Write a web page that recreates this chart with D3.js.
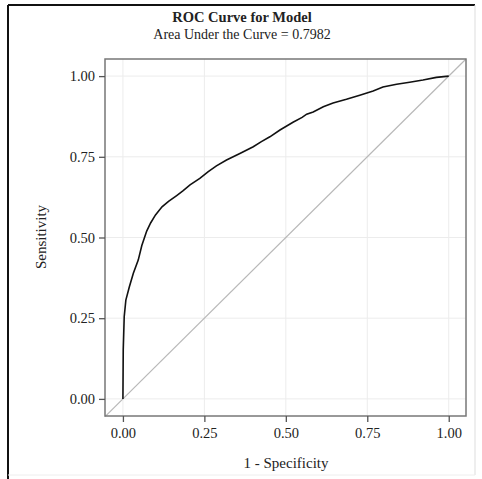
<!DOCTYPE html>
<html>
<head>
<meta charset="utf-8">
<script src="https://cdn.jsdelivr.net/npm/d3@7"></script>
<style>
  body { margin: 0; background: #fff; }
  text { font-family: "Liberation Serif", "DejaVu Serif", serif; fill: #222; }
</style>
</head>
<body>
<script>
// ROC points
const fpr = [0, 0.001, 0.004, 0.009, 0.020, 0.032, 0.047, 0.058, 0.073, 0.085, 0.100, 0.120, 0.140,
  0.165, 0.185, 0.206, 0.236, 0.262, 0.287, 0.318, 0.359, 0.400, 0.425, 0.451, 0.482, 0.522, 0.550,
  0.564, 0.584, 0.615, 0.645, 0.686, 0.727, 0.768, 0.798, 0.840, 0.880, 0.921, 0.962, 1.0];
const tpr = [0, 0.152, 0.255, 0.306, 0.348, 0.389, 0.430, 0.475, 0.520, 0.545, 0.570, 0.595, 0.612,
  0.630, 0.645, 0.663, 0.683, 0.704, 0.722, 0.740, 0.760, 0.781, 0.797, 0.812, 0.833, 0.857, 0.872,
  0.882, 0.889, 0.905, 0.917, 0.928, 0.941, 0.954, 0.966, 0.975, 0.981, 0.988, 0.996, 1.0];
const tickVals = [0, 0.25, 0.5, 0.75, 1];
const title = "ROC Curve for Model";
const subtitle = "Area Under the Curve = 0.7982";

const w = 482, h = 479;
const panel = {left: 105, right: 466, top: 59, bottom: 416};

const svg = d3.select("body").append("svg")
  .attr("width", w).attr("height", h);

// outer frame
svg.append("line").attr("x1", 8).attr("x2", 8).attr("y1", 5).attr("y2", h).attr("stroke", "#111").attr("stroke-width", 2);
svg.append("line").attr("x1", 8).attr("x2", 475).attr("y1", 5).attr("y2", 5).attr("stroke", "#111").attr("stroke-width", 2);
svg.append("line").attr("x1", 475).attr("x2", 475).attr("y1", 5).attr("y2", 475).attr("stroke", "#ddd");
svg.append("line").attr("x1", 8).attr("x2", 475).attr("y1", 475).attr("y2", 475).attr("stroke", "#eee");

const x = d3.scaleLinear().domain([-0.055, 1.053]).range([panel.left, panel.right]);
const y = d3.scaleLinear().domain([-0.053, 1.053]).range([panel.bottom, panel.top]);

// gridlines
svg.append("g").selectAll("line").data(tickVals).enter().append("line")
  .attr("x1", d => x(d)).attr("x2", d => x(d))
  .attr("y1", panel.top).attr("y2", panel.bottom)
  .attr("stroke", "#ececec");
svg.append("g").selectAll("line").data(tickVals).enter().append("line")
  .attr("y1", d => y(d)).attr("y2", d => y(d))
  .attr("x1", panel.left).attr("x2", panel.right)
  .attr("stroke", "#ececec");

// diagonal reference line
svg.append("line")
  .attr("x1", x(-0.055)).attr("y1", y(-0.055))
  .attr("x2", x(1.053)).attr("y2", y(1.053))
  .attr("stroke", "#b8b8b8").attr("stroke-width", 1.2);

// ROC curve
const pts = fpr.map((d, i) => [d, tpr[i]]);
svg.append("path").datum(pts)
  .attr("fill", "none").attr("stroke", "#111").attr("stroke-width", 1.6)
  .attr("d", d3.line().x(d => x(d[0])).y(d => y(d[1])));

// panel border
svg.append("rect")
  .attr("x", panel.left).attr("y", panel.top)
  .attr("width", panel.right - panel.left).attr("height", panel.bottom - panel.top)
  .attr("fill", "none").attr("stroke", "#777").attr("stroke-width", 1.5);

// axes
const xAxis = svg.append("g").attr("transform", `translate(0,${panel.bottom})`)
  .call(d3.axisBottom(x).tickValues(tickVals).tickFormat(d3.format(".2f")).tickSize(6).tickPadding(6));
const yAxis = svg.append("g").attr("transform", `translate(${panel.left},0)`)
  .call(d3.axisLeft(y).tickValues(tickVals).tickFormat(d3.format(".2f")).tickSize(6).tickPadding(4));
[xAxis, yAxis].forEach(a => {
  a.select(".domain").remove();
  a.selectAll(".tick line").attr("stroke", "#555").attr("stroke-width", 1.3);
  a.selectAll(".tick text").attr("font-size", 14.5).attr("fill", "#222")
    .style("font-family", "'Liberation Serif', serif");
});

// titles
svg.append("text").attr("x", 242).attr("y", 22).attr("text-anchor", "middle")
  .attr("font-size", 14.5).attr("font-weight", "bold").text(title);
svg.append("text").attr("x", 242).attr("y", 39).attr("text-anchor", "middle")
  .attr("font-size", 14).text(subtitle);
svg.append("text").attr("x", 286).attr("y", 468).attr("text-anchor", "middle")
  .attr("font-size", 15).text("1 - Specificity");
svg.append("text").attr("transform", "translate(46,237) rotate(-90)").attr("text-anchor", "middle")
  .attr("font-size", 15).text("Sensitivity");
</script>
</body>
</html>
